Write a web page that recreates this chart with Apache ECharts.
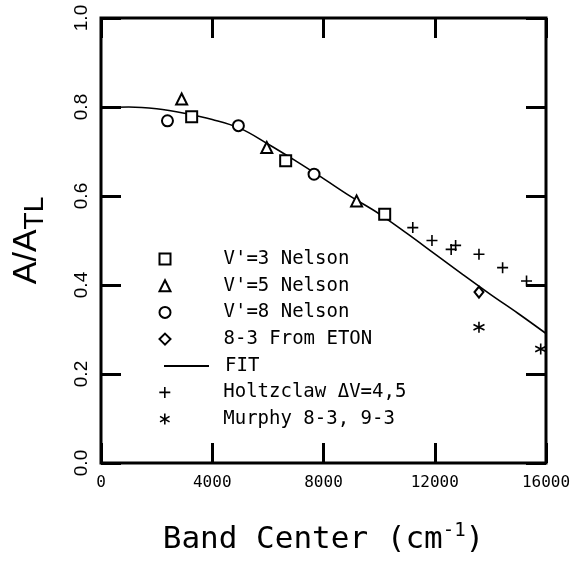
<!DOCTYPE html>
<html>
<head>
<meta charset="utf-8">
<script src="https://cdn.jsdelivr.net/npm/echarts@6/dist/echarts.min.js"></script>
<style>
  html, body { margin: 0; padding: 0; background: #fff; }
  #chart { width: 574px; height: 563px; }
</style>
</head>
<body>
<div id="chart"></div>
<script>
// Axis ranges and tick spacing
const xMin = 0, xMax = 16000, xStep = 4000;
const yMin = 0, yMax = 1.0, yStep = 0.2;

// Nelson measurements, by upper vibrational level
const nelson3X = [3260, 6640, 10200];
const nelson3Y = [0.778, 0.679, 0.559];
const nelson5X = [2900, 5960, 9190];
const nelson5Y = [0.818, 0.709, 0.589];
const nelson8X = [2390, 4940, 7660];
const nelson8Y = [0.769, 0.758, 0.649];

// 8-3 band derived from ETON
const etonX = [13590];
const etonY = [0.384];

// Fitted curve
const fitX = [0, 1000, 2000, 3000, 4000, 5000, 6000, 7000, 8000, 9000, 10000, 11000, 12000, 13000, 14000, 15000, 16000];
const fitY = [0.797, 0.800, 0.796, 0.786, 0.772, 0.752, 0.717, 0.679, 0.639, 0.598, 0.560, 0.516, 0.470, 0.424, 0.379, 0.336, 0.291];

// Holtzclaw, delta v = 4,5
const holtzX = [11210, 11900, 12590, 12750, 13590, 14440, 15300];
const holtzY = [0.529, 0.500, 0.480, 0.489, 0.469, 0.439, 0.409];

// Murphy 8-3 and 9-3
const murphyX = [13590, 15810];
const murphyY = [0.305, 0.256];

// Series names as shown in the key
const names = ["V'=3 Nelson", "V'=5 Nelson", "V'=8 Nelson", "8-3 From ETON", "FIT", "Holtzclaw \u0394V=4,5", "Murphy 8-3, 9-3"];

const zip = (xs, ys) => xs.map((x, i) => [x, ys[i]]);

const plusPath = 'path://M5,0V10M0,5H10';
const starPath = 'path://M5,0V10M0.67,2.5L9.33,7.5M0.67,7.5L9.33,2.5';

const mono = 'DejaVu Sans Mono';
const sans = 'Liberation Sans';

function markerSeries(name, xs, ys, symbol, size) {
  return {
    type: 'scatter',
    name: name,
    data: zip(xs, ys),
    symbol: symbol,
    symbolSize: size,
    z: 3,
    itemStyle: { color: '#000', borderColor: '#000', borderWidth: 1.6, opacity: 1 }
  };
}

const chart = echarts.init(document.getElementById('chart'), null, { renderer: 'canvas' });

const legendText = { fontFamily: mono, fontSize: 19, color: '#000', lineHeight: 20, padding: [0, 0, 0, 48] };

const axisTick = { show: true, inside: true, length: 20, lineStyle: { color: '#000', width: 3 } };
const hiddenLine = { show: false, onZero: false };

chart.setOption({
  animation: false,
  backgroundColor: '#fff',
  grid: {
    left: 101, top: 18, width: 445, height: 445,
    outerBoundsMode: 'none', containLabel: false,
    show: true, borderColor: '#000', borderWidth: 3, backgroundColor: 'transparent'
  },
  xAxis: [
    {
      type: 'value', min: xMin, max: xMax, interval: xStep, position: 'bottom',
      axisLine: hiddenLine,
      axisTick: axisTick,
      splitLine: { show: false },
      axisLabel: { fontFamily: mono, fontSize: 16, color: '#000', margin: 12, formatter: v => String(v) },
      name: '{t|Band Center (cm}{s|-1}{t|)}',
      nameLocation: 'middle',
      nameGap: 59,
      nameTextStyle: {
        rich: {
          t: { fontFamily: mono, fontSize: 31, color: '#000' },
          s: { fontFamily: mono, fontSize: 19, color: '#000', padding: [0, 0, 17, 0] }
        }
      }
    },
    {
      type: 'value', min: xMin, max: xMax, interval: xStep, position: 'top',
      axisLine: hiddenLine, axisTick: axisTick, splitLine: { show: false }, axisLabel: { show: false }
    }
  ],
  yAxis: [
    {
      type: 'value', min: yMin, max: yMax, interval: yStep, position: 'left',
      axisLine: hiddenLine,
      axisTick: axisTick,
      splitLine: { show: false },
      axisLabel: { fontFamily: sans, fontSize: 19, color: '#000', rotate: 90, margin: 10, formatter: v => v.toFixed(1) },
      name: '{a|A/A}{b|TL}',
      nameLocation: 'middle',
      nameRotate: 90,
      nameGap: 52,
      nameTextStyle: {
        rich: {
          a: { fontFamily: sans, fontSize: 34, color: '#000' },
          b: { fontFamily: sans, fontSize: 28, color: '#000', padding: [16, 0, 0, 0] }
        }
      }
    },
    {
      type: 'value', min: yMin, max: yMax, interval: yStep, position: 'right',
      axisLine: hiddenLine, axisTick: axisTick, splitLine: { show: false }, axisLabel: { show: false }
    }
  ],
  legend: [
    {
      data: names.slice(0, 4), orient: 'vertical', left: 158.5, top: 249, padding: 0,
      itemWidth: 11, itemHeight: 11, itemGap: 6.7, selectedMode: false,
      itemStyle: { borderWidth: 1.6 },
      textStyle: legendText
    },
    {
      data: names.slice(4, 5), orient: 'vertical', left: 163, top: 356, padding: 0,
      itemWidth: 45, itemHeight: 12, selectedMode: false,
      itemStyle: { color: 'rgba(0,0,0,0)', borderWidth: 0 },
      textStyle: Object.assign({}, legendText, { padding: [0, 0, 0, 11] })
    },
    {
      data: names.slice(5), orient: 'vertical', left: 158.5, top: 382.4, padding: 0,
      itemWidth: 11, itemHeight: 11, itemGap: 6.7, selectedMode: false,
      itemStyle: { borderWidth: 1.6 },
      textStyle: legendText
    }
  ],
  series: [
    markerSeries(names[0], nelson3X, nelson3Y, 'emptyRect', 11),
    markerSeries(names[1], nelson5X, nelson5Y, 'emptyTriangle', 11),
    markerSeries(names[2], nelson8X, nelson8Y, 'emptyCircle', 11),
    markerSeries(names[3], etonX, etonY, 'emptyDiamond', [9, 11]),
    {
      type: 'line', name: names[4], data: zip(fitX, fitY), smooth: 0.4,
      symbol: 'none', z: 2,
      lineStyle: { color: '#000', width: 1.6 },
      itemStyle: { color: '#000' }
    },
    markerSeries(names[5], holtzX, holtzY, plusPath, 11),
    markerSeries(names[6], murphyX, murphyY, starPath, 11)
  ]
});
</script>
</body>
</html>
